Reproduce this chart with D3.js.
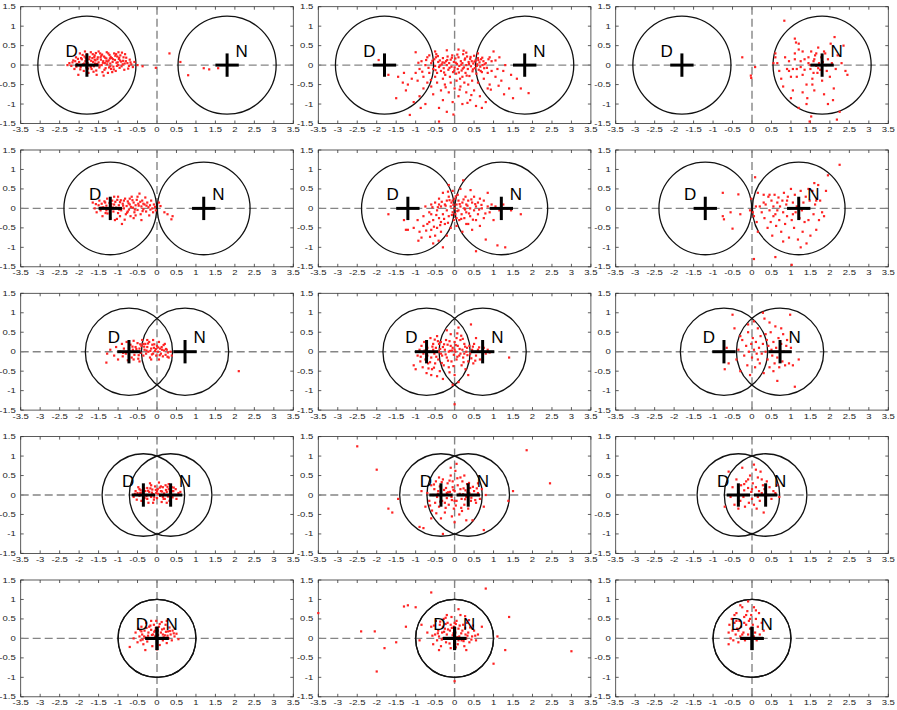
<!DOCTYPE html>
<html>
<head>
<meta charset="utf-8">
<script src="https://cdn.jsdelivr.net/npm/d3@7"></script>
<style>
body { margin: 0; background: #fff; }
svg { display: block; }
text { font-family: "Liberation Sans", Arial, Helvetica, sans-serif; }
</style>
</head>
<body>
<svg></svg>
<script>
'use strict';

// ---- data ----
const xTicks = [-3.5, -3, -2.5, -2, -1.5, -1, -0.5, 0, 0.5, 1, 1.5, 2, 2.5, 3, 3.5];
const xTickLabels = ["-3.5", "-3", "-2.5", "-2", "-1.5", "-1", "-0.5", "0", "0.5", "1", "1.5", "2", "2.5", "3", "3.5"];
const yTicks = [-1.5, -1, -0.5, 0, 0.5, 1, 1.5];
const yTickLabels = ["-1.5", "-1", "-0.5", "0", "0.5", "1", "1.5"];

// D at -offset, N at +offset, one row each
const rowOffsets = [1.8, 1.2, 0.72, 0.35, 0];
const rowRadii = [1.26, 1.19, 1.12, 1.06, 1.0];
const crossArm = 0.3;
const markerNames = ["D", "N"];

const pts11 = [[-2.3,0.0],[-2.25,0.05],[-2.2,-0.02],[-2.15,0.12],[-2.12,-0.1],[-2.08,0.2],[-2.05,0.03],[-2.02,-0.25],[-2.0,0.08],[-1.98,0.3],[-1.96,-0.05],[-1.93,0.15],[-1.9,0.02],[-1.88,-0.15],[-1.86,0.22],[-1.84,0.1],[-1.82,-0.06],[-1.8,0.28],[-1.78,0.05],[-1.76,-0.2],[-1.74,0.15],[-1.72,0.0],[-1.7,0.33],[-1.68,-0.1],[-1.66,0.18],[-1.64,0.08],[-1.62,-0.03],[-1.6,0.25],[-1.58,0.12],[-1.56,-0.14],[-1.54,0.03],[-1.52,0.2],[-1.5,0.07],[-1.48,-0.06],[-1.46,0.3],[-1.44,0.14],[-1.42,0.0],[-1.4,-0.18],[-1.38,0.1],[-1.36,0.22],[-1.34,0.05],[-1.32,-0.08],[-1.3,0.17],[-1.28,0.02],[-1.26,-0.2],[-1.24,0.12],[-1.22,0.26],[-1.2,0.04],[-1.18,-0.1],[-1.16,0.18],[-1.14,0.08],[-1.12,-0.04],[-1.1,0.3],[-1.08,0.13],[-1.06,-0.15],[-1.04,0.06],[-1.02,0.22],[-1.0,0.0],[-0.98,0.16],[-0.96,-0.07],[-0.94,0.25],[-0.92,0.09],[-0.9,0.32],[-0.88,0.02],[-0.86,0.2],[-0.84,-0.12],[-0.8,0.1],[-0.76,0.05],[-0.72,-0.02],[-0.68,0.07],[-0.62,-0.05],[-0.58,0.08],[-0.5,0.0],[-1.95,0.18],[-1.85,0.35],[-1.65,0.28],[-1.55,-0.25],[-1.45,0.2],[-1.35,-0.12],[-1.25,0.3],[-1.15,-0.18],[-1.05,0.28],[-2.1,0.1],[-1.7,-0.05],[-1.6,0.14],[-1.5,0.35],[-1.3,0.1],[-1.2,-0.03],[-0.95,0.12],[-0.82,0.28],[-0.66,0.02],[-0.37,-0.03],[-0.03,-0.07],[0.32,0.3],[0.6,0.08],[0.8,-0.26],[1.2,-0.08],[1.34,-0.11],[1.57,-0.08],
  [-2.17,0.07],[-2.03,0.16],[-1.97,-0.11],[-1.91,0.26],[-1.87,0.04],[-1.81,0.13],[-1.77,-0.09],[-1.73,0.21],[-1.69,0.11],[-1.63,-0.17],[-1.59,0.04],[-1.57,0.31],[-1.53,0.15],[-1.47,-0.01],[-1.43,0.24],[-1.39,0.06],[-1.37,-0.27],[-1.33,0.19],[-1.29,0.33],[-1.27,0.09],[-1.23,-0.06],[-1.19,0.21],[-1.13,0.15],[-1.11,-0.11],[-1.07,0.24],[-1.03,-0.02],[-0.99,0.33],[-0.97,0.19],[-0.91,-0.03],[-0.87,0.11],[-0.83,0.04],[-0.79,0.19],[-0.74,-0.09],[-0.7,0.14],[-1.61,0.21],[-1.41,0.27],[-1.21,0.17],[-1.01,0.07],[-1.83,0.18],[-2.07,-0.04]];

const pts12 = [[-0.6,0.05],[-0.55,-0.1],[-0.52,0.15],[-0.5,-0.02],[-0.48,0.2],[-0.45,-0.2],[-0.42,0.08],[-0.4,-0.05],[-0.38,0.12],[-0.35,-0.15],[-0.33,0.02],[-0.3,0.18],[-0.28,-0.08],[-0.26,0.06],[-0.24,-0.25],[-0.22,0.1],[-0.2,0.0],[-0.18,0.22],[-0.16,-0.12],[-0.14,0.05],[-0.12,-0.3],[-0.1,0.14],[-0.08,-0.04],[-0.06,0.25],[-0.04,-0.18],[-0.02,0.08],[0.0,-0.06],[0.02,0.17],[0.04,-0.22],[0.06,0.03],[0.08,-0.1],[0.1,0.2],[0.12,-0.02],[0.14,-0.35],[0.16,0.1],[0.18,-0.14],[0.2,0.05],[0.22,0.28],[0.24,-0.06],[0.26,0.14],[0.28,-0.2],[0.3,0.0],[0.32,0.22],[0.34,-0.1],[0.36,0.08],[0.38,-0.28],[0.4,0.16],[0.42,-0.03],[0.44,0.1],[0.46,-0.16],[0.48,0.04],[0.5,0.24],[0.52,-0.08],[0.54,0.12],[0.56,-0.22],[0.58,0.02],[0.6,0.18],[0.62,-0.12],[0.64,0.07],[0.66,-0.04],[0.68,0.15],[0.7,-0.18],[0.72,0.0],[0.74,0.1],[0.76,-0.08],[0.8,0.05],[-0.9,-0.1],[-0.85,0.1],[-0.8,-0.3],[-0.75,0.0],[-0.7,-0.45],[-0.65,0.25],[-0.95,-0.4],[-1.0,-0.2],[-1.1,-0.35],[-1.2,-0.5],[-1.25,-0.65],[-1.3,-0.2],[-1.45,-0.3],[-1.5,-0.85],[-1.7,-0.25],[-1.95,0.13],[-1.15,-1.28],[-1.0,0.33],[-1.05,-0.95],[-0.9,-0.8],[-0.8,-0.6],[-0.75,-1.0],[-0.6,-0.55],[-0.55,-0.75],[-0.45,-0.45],[-0.4,-1.1],[-0.35,-0.65],[-0.3,-0.9],[-0.25,-0.5],[-0.2,-1.2],[-0.4,-1.45],[-0.15,-0.7],[-0.1,-0.45],[-0.05,-0.95],[0.0,-0.6],[0.05,-0.4],[0.1,-0.8],[0.15,-0.55],[0.2,-1.0],[0.25,-0.45],[0.3,-0.7],[0.35,-0.5],[0.4,-0.9],[0.45,-0.4],[0.5,-0.65],[0.55,-1.05],[0.6,-0.45],[0.65,-0.8],[0.7,-1.1],[0.75,-0.35],[0.8,-0.95],[0.85,-0.2],[0.9,-0.5],[0.95,0.1],[1.0,0.35],[1.05,-0.3],[1.1,-0.1],[1.15,0.2],[1.2,-0.4],[1.25,-0.15],[1.3,0.0],[1.4,-0.6],[1.45,-0.25],[1.5,-0.85],[1.6,-0.35],[1.7,-0.6],[1.9,-0.72],[0.9,0.2],[0.85,-0.6],[-0.5,0.35],[-0.2,0.38],[0.1,0.4],[0.3,0.32],[0.6,0.3],[-0.7,0.2],[-0.65,-0.2],[-0.5,-0.3],[0.95,-0.15],[1.05,0.12],[-0.3,-0.35],[0.2,-0.3],
  [-0.57,0.11],[-0.49,-0.13],[-0.43,0.23],[-0.37,-0.01],[-0.31,0.07],[-0.27,-0.19],[-0.19,0.13],[-0.13,-0.07],[-0.07,0.19],[-0.01,-0.14],[0.03,0.06],[0.07,0.27],[0.11,-0.19],[0.17,0.01],[0.21,-0.09],[0.27,0.17],[0.31,-0.27],[0.37,0.03],[0.41,0.21],[0.47,-0.11],[0.51,0.09],[0.57,-0.02],[0.61,0.13],[0.67,-0.15],[0.71,0.19],[0.77,0.02],[0.83,-0.07],[0.87,0.15],[-0.67,-0.07],[-0.73,0.13],[-0.83,-0.17],[-0.93,0.06],[-0.61,-0.38],[-0.23,-0.57],[0.13,-0.63],[0.43,-0.77],[0.93,-0.63],[1.13,-0.53],[-0.87,-1.1],[-0.03,-1.27],[0.33,-0.97],[1.27,-0.75],[-1.33,-0.45],[-0.47,0.28],[0.23,0.37]];

const pts13 = [[0.83,1.14],[1.1,0.68],[1.13,0.58],[1.2,0.55],[0.6,0.3],[0.65,0.05],[0.55,0.05],[0.6,0.2],[0.7,-0.15],[0.75,-0.35],[0.8,-0.55],[0.85,0.2],[0.9,-0.1],[0.95,0.1],[1.0,-0.3],[1.05,-0.65],[1.1,0.3],[1.15,-0.1],[1.2,0.4],[1.25,-0.05],[1.3,-0.25],[1.35,0.15],[1.4,-0.5],[1.42,-0.85],[1.45,0.05],[1.5,-0.1],[1.52,0.35],[1.55,-0.35],[1.58,0.1],[1.6,-0.65],[1.62,0.25],[1.65,-0.02],[1.68,-0.2],[1.7,0.45],[1.72,0.05],[1.75,-0.12],[1.78,0.2],[1.8,-0.4],[1.82,0.08],[1.85,-0.75],[1.88,0.3],[1.9,0.0],[1.92,-0.15],[1.95,0.15],[2.0,-0.3],[2.02,0.55],[2.05,0.05],[2.1,-0.6],[2.12,0.72],[2.15,-0.1],[2.2,0.25],[2.25,-1.2],[2.3,0.05],[2.35,0.5],[2.4,-0.15],[2.45,-0.25],[1.48,-1.45],[1.52,-1.32],[1.2,-1.1],[1.4,-1.0],[1.95,-1.0],[2.08,-0.9],[1.3,-0.7],[1.55,-0.5],[1.15,-0.3],[1.1,0.15],[1.25,0.1],[1.35,-0.12],[1.45,0.2],[1.6,0.15],[1.7,-0.08],[1.85,0.35],[1.58,-0.2],[1.05,-0.1],[0.95,-0.15],[1.65,0.3],[1.3,0.35],[1.5,0.0],[-0.25,0.2],[-0.03,-0.27],[0.08,-0.05],[-0.02,-0.33],[2.18,-1.4],[1.0,-0.85]];

const pts21 = [[-1.65,0.15],[-1.6,0.0],[-1.55,-0.1],[-1.5,0.08],[-1.48,0.2],[-1.45,-0.05],[-1.42,0.12],[-1.4,-0.2],[-1.38,0.03],[-1.35,0.18],[-1.32,-0.12],[-1.3,0.07],[-1.28,0.25],[-1.25,-0.02],[-1.22,0.14],[-1.2,-0.25],[-1.18,0.05],[-1.15,0.2],[-1.12,-0.08],[-1.1,0.1],[-1.08,-0.3],[-1.05,0.02],[-1.02,0.22],[-1.0,-0.12],[-0.98,0.08],[-0.95,0.16],[-0.92,-0.05],[-0.9,-0.4],[-0.88,0.12],[-0.85,0.0],[-0.82,0.25],[-0.8,-0.15],[-0.78,0.06],[-0.75,0.18],[-0.72,-0.03],[-0.7,0.1],[-0.68,-0.2],[-0.65,0.3],[-0.62,0.02],[-0.6,0.15],[-0.58,-0.1],[-0.55,0.08],[-0.52,0.22],[-0.5,-0.04],[-0.48,0.12],[-0.45,0.38],[-0.42,-0.15],[-0.4,0.05],[-0.38,0.2],[-0.35,-0.02],[-0.32,0.1],[-0.3,0.28],[-0.28,-0.08],[-0.25,0.15],[-0.22,0.03],[-0.2,-0.18],[-0.18,0.08],[-0.15,0.2],[-0.12,0.0],[-0.1,-0.1],[-0.08,0.1],[-0.05,0.04],[-0.03,-0.05],[-1.3,-0.05],[-1.1,0.3],[-0.95,-0.2],[-0.85,0.2],[-0.75,-0.08],[-0.6,-0.25],[-0.5,0.3],[-0.4,-0.3],[-1.2,0.05],[-1.0,0.3],[-0.7,0.25],[-0.55,-0.18],[-0.35,0.12],[0.09,0.06],[0.19,-0.1],[0.27,-0.15],[0.4,-0.2],[0.37,-0.28],[0.05,0.15],
  [-1.57,0.11],[-1.43,0.02],[-1.33,0.15],[-1.27,-0.13],[-1.17,0.11],[-1.13,0.02],[-1.07,0.17],[-0.97,-0.03],[-0.93,0.21],[-0.87,0.07],[-0.77,-0.11],[-0.73,0.13],[-0.67,0.04],[-0.63,0.21],[-0.57,-0.03],[-0.47,0.07],[-0.43,0.17],[-0.37,-0.07],[-0.27,0.07],[-0.17,-0.03],[-1.03,-0.27],[-0.83,-0.29]];

const pts22 = [[-1.7,-0.15],[-1.3,-0.3],[-1.25,-0.55],[-1.2,-0.55],[-1.05,-0.5],[-0.95,-0.3],[-0.9,-0.6],[-0.85,-0.75],[-0.8,-0.2],[-0.75,0.05],[-0.7,-0.4],[-0.65,-0.1],[-0.6,0.1],[-0.6,-0.55],[-0.55,-0.3],[-0.5,0.15],[-0.5,-0.7],[-0.45,-0.05],[-0.45,-0.5],[-0.4,0.25],[-0.4,-0.25],[-0.35,0.05],[-0.35,-0.6],[-0.3,0.4],[-0.3,-0.15],[-0.3,-1.0],[-0.25,0.1],[-0.25,-0.4],[-0.2,-0.05],[-0.2,0.2],[-0.2,-0.7],[-0.15,0.3],[-0.15,-0.2],[-0.1,0.05],[-0.1,-0.5],[-0.08,0.15],[-0.05,-0.1],[-0.05,0.45],[-0.02,-0.3],[0.0,0.0],[0.0,0.25],[0.02,-0.15],[0.05,0.1],[0.05,-0.45],[0.08,0.35],[0.1,-0.05],[0.1,0.2],[0.12,-0.3],[0.15,0.05],[0.15,0.5],[0.18,-0.15],[0.2,0.15],[0.2,-0.6],[0.22,0.72],[0.25,0.0],[0.25,-0.25],[0.28,0.3],[0.3,-0.1],[0.3,0.1],[0.35,-0.4],[0.35,0.2],[0.4,0.0],[0.4,-0.2],[0.45,0.15],[0.45,-0.55],[0.5,-0.05],[0.5,0.3],[0.55,-0.3],[0.55,0.05],[0.6,0.15],[0.6,-0.15],[0.65,-0.45],[0.7,0.0],[0.75,0.2],[0.75,-0.25],[0.8,-0.8],[0.85,0.05],[0.9,-0.1],[0.95,0.1],[1.0,-0.3],[1.05,0.05],[1.1,-0.95],[1.15,-0.05],[1.25,0.1],[1.3,-1.0],[1.35,0.0],[1.45,-0.05],[1.7,-0.15],[0.85,0.4],[0.55,-1.1],[-0.55,-0.9],[-0.65,-0.35],[-0.15,0.6],[-0.05,0.2],[0.05,-0.25],[-0.4,0.1],[-0.6,-0.15],[-0.8,-0.45],[-0.35,-0.35],[0.3,-0.4],[0.65,0.25],
  [-0.47,-0.17],[-0.43,0.03],[-0.37,-0.43],[-0.33,0.17],[-0.27,-0.27],[-0.23,0.07],[-0.17,-0.37],[-0.13,0.21],[-0.07,-0.17],[-0.03,0.09],[0.03,0.31],[0.07,-0.07],[0.13,0.11],[0.17,-0.27],[0.23,0.23],[0.27,-0.03],[0.33,0.07],[0.37,-0.13],[0.43,0.23],[0.47,-0.29],[0.53,0.11],[0.63,-0.03],[0.69,0.09],[0.79,-0.13],[-0.53,-0.47],[-0.63,-0.73],[-0.73,-0.57],[-0.93,-0.83],[-0.57,0.03],[-0.17,0.43],[0.41,0.47],[-0.41,-0.83]];

const pts23 = [[-0.75,-0.2],[-0.72,-0.28],[-0.75,0.4],[-0.55,-0.1],[-0.5,-0.52],[-0.35,0.36],[-0.3,-0.15],[-0.05,-0.05],[0.05,-0.2],[0.08,0.8],[0.1,0.05],[0.12,-0.35],[0.15,-0.6],[0.2,0.05],[0.25,-0.1],[0.3,0.35],[0.32,-0.25],[0.35,0.1],[0.4,-0.5],[0.42,0.3],[0.45,-0.05],[0.48,-0.35],[0.5,0.2],[0.52,-0.7],[0.55,0.05],[0.58,0.35],[0.6,-0.15],[0.62,-0.45],[0.65,0.15],[0.68,0.28],[0.7,-0.3],[0.72,0.05],[0.75,-0.6],[0.78,0.2],[0.8,-0.1],[0.82,0.4],[0.85,-0.4],[0.88,0.1],[0.9,-0.2],[0.92,0.3],[0.95,-0.75],[0.98,0.0],[1.0,0.5],[1.02,-0.3],[1.05,0.15],[1.08,-0.5],[1.1,0.35],[1.12,-0.1],[1.15,0.05],[1.18,-0.8],[1.2,0.25],[1.22,-0.25],[1.25,0.45],[1.28,-0.05],[1.3,-0.6],[1.32,0.15],[1.35,-0.35],[1.38,0.3],[1.4,-0.9],[1.42,0.0],[1.45,-0.3],[1.48,0.2],[1.5,-0.7],[1.55,0.45],[1.58,-0.15],[1.6,0.65],[1.62,0.1],[1.65,-0.55],[1.7,0.6],[1.72,-0.3],[1.75,0.2],[1.8,-0.1],[1.85,-0.2],[1.9,0.45],[1.95,0.85],[2.25,1.12],[0.05,-1.3],[0.6,-1.25],[1.02,-1.45],[0.8,-0.85],[1.25,-1.0],[0.45,0.35],[0.15,0.4],[0.3,0.15],[0.55,-0.2],[0.65,-0.05],[0.9,0.2],[1.05,-0.15],[1.45,0.5],[1.65,0.2],[-0.02,0.25],[0.02,-0.1]];

const pts31 = [[-1.3,-0.28],[-1.28,-0.05],[-1.2,0.05],[-1.1,-0.1],[-1.05,0.12],[-1.0,-0.2],[-0.95,0.0],[-0.9,0.2],[-0.88,-0.12],[-0.85,0.08],[-0.8,-0.05],[-0.78,0.25],[-0.75,-0.22],[-0.72,0.1],[-0.7,0.0],[-0.68,0.18],[-0.65,-0.15],[-0.62,0.05],[-0.6,0.28],[-0.58,-0.08],[-0.55,0.12],[-0.52,0.0],[-0.5,0.22],[-0.48,-0.18],[-0.45,0.08],[-0.42,-0.03],[-0.4,0.15],[-0.38,0.3],[-0.35,-0.1],[-0.32,0.05],[-0.3,0.2],[-0.28,-0.05],[-0.25,0.12],[-0.22,0.0],[-0.2,0.25],[-0.18,-0.15],[-0.15,0.08],[-0.12,0.18],[-0.1,-0.05],[-0.08,0.1],[-0.05,0.02],[-0.02,-0.1],[0.0,0.15],[0.02,0.0],[0.05,-0.2],[0.08,0.08],[0.1,-0.05],[0.12,0.12],[0.15,-0.12],[0.18,0.03],[0.2,0.2],[0.22,-0.08],[0.25,0.05],[0.28,-0.02],[0.3,-0.15],[0.35,0.0],[0.38,-0.1],[-0.25,0.3],[-0.45,-0.25],[-0.15,-0.2],[0.05,0.25],[-0.6,-0.2],[-0.35,0.2],[-0.1,0.3],[2.1,-0.5],
  [-0.33,0.13],[-0.27,0.03],[-0.23,0.21],[-0.17,0.02],[-0.13,-0.07],[-0.07,0.19],[-0.03,0.07],[0.03,0.11],[0.07,-0.09],[0.13,0.05],[0.17,0.17],[0.23,0.07],[-0.43,0.19],[-0.53,0.07],[-0.63,0.13],[-0.87,-0.03],[0.27,-0.13],[-0.47,-0.09]];

const pts32 = [[-1.05,-0.35],[-1.0,-0.45],[-0.95,-0.1],[-0.9,0.05],[-0.88,-0.25],[-0.85,0.15],[-0.82,-0.4],[-0.8,-0.05],[-0.78,0.25],[-0.75,-0.2],[-0.72,-0.55],[-0.7,0.1],[-0.68,-0.3],[-0.65,0.0],[-0.62,0.35],[-0.6,-0.15],[-0.58,-0.45],[-0.55,0.2],[-0.52,-0.05],[-0.5,-0.3],[-0.48,0.1],[-0.45,0.4],[-0.42,-0.2],[-0.4,0.0],[-0.38,-0.5],[-0.35,0.25],[-0.32,-0.1],[-0.3,0.12],[-0.28,-0.35],[-0.25,0.05],[-0.22,0.3],[-0.2,-0.15],[-0.18,0.18],[-0.15,-0.4],[-0.12,0.02],[-0.1,0.45],[-0.08,-0.25],[-0.05,0.1],[-0.02,-0.08],[0.0,0.25],[0.0,-0.6],[0.02,0.0],[0.05,-0.2],[0.08,0.15],[0.1,0.62],[0.12,-0.1],[0.15,0.3],[0.18,-0.35],[0.2,0.05],[0.22,-0.15],[0.25,0.2],[0.28,-0.45],[0.3,0.0],[0.32,0.1],[0.35,-0.25],[0.38,0.15],[0.4,-0.05],[0.42,0.7],[0.45,0.05],[0.48,-0.3],[0.5,0.2],[0.55,-0.1],[0.6,0.05],[0.65,-0.2],[0.7,0.0],[0.75,0.1],[0.8,-0.05],[0.85,0.05],[0.9,-0.02],[1.4,-0.15],[0.0,-1.35],[-0.05,-0.85],[0.1,-0.78],[-0.3,-0.7],[-0.6,-0.6],[0.35,-0.6],[0.55,0.35],[-0.2,0.55],[-0.4,0.2],[-0.15,0.0],[0.05,0.35],[0.25,-0.05],[-0.55,0.05],[-0.7,-0.1],[-0.35,-0.05],[0.15,-0.05],[-0.1,0.15],[0.0,0.05],
  [-0.63,-0.27],[-0.57,0.13],[-0.53,-0.41],[-0.47,-0.13],[-0.43,0.27],[-0.37,0.07],[-0.33,-0.29],[-0.27,0.19],[-0.23,-0.07],[-0.17,-0.23],[-0.13,0.27],[-0.07,0.03],[-0.03,-0.37],[0.03,0.17],[0.07,-0.13],[0.13,0.07],[0.17,0.41],[0.23,-0.27],[0.27,0.13],[0.33,-0.09],[0.43,-0.17],[0.47,0.13],[0.53,-0.23],[0.63,0.11],[-0.77,0.03],[-0.87,-0.13],[-0.67,-0.43],[-0.45,-0.63],[-0.13,-0.53],[0.21,0.33],[-0.51,0.31],[0.07,0.47]];

const pts33 = [[-0.7,-0.45],[-0.65,0.1],[-0.6,-0.3],[-0.5,0.95],[-0.45,0.6],[-0.4,-0.2],[-0.35,0.05],[-0.3,-0.5],[-0.25,0.3],[-0.2,-0.1],[-0.15,0.15],[-0.12,-0.35],[-0.1,0.5],[-0.08,0.0],[-0.05,-0.6],[-0.02,0.2],[0.0,-0.15],[0.02,0.35],[0.05,0.05],[0.08,-0.4],[0.1,0.25],[0.12,-0.05],[0.15,0.6],[0.18,0.1],[0.2,-0.3],[0.22,0.4],[0.25,-0.05],[0.28,0.2],[0.3,-0.55],[0.32,0.85],[0.35,0.0],[0.38,0.3],[0.4,-0.2],[0.42,0.15],[0.45,-0.4],[0.48,0.5],[0.5,0.05],[0.52,-0.1],[0.55,0.25],[0.58,-0.3],[0.6,0.65],[0.62,0.1],[0.65,-0.15],[0.68,0.35],[0.7,-0.4],[0.72,0.05],[0.75,0.2],[0.78,-0.25],[0.8,0.45],[0.82,0.0],[0.85,-0.35],[0.88,0.15],[0.9,0.3],[0.95,-0.3],[1.0,0.1],[1.05,-0.35],[1.1,-0.9],[1.2,-0.2],[0.65,-0.75],[0.98,0.95],[0.28,1.0],[-0.1,0.7],[0.05,0.78],[0.45,0.75],[0.15,-0.2],[0.35,0.45],[0.55,-0.5],[0.75,0.6],[-0.3,0.4]];

const pts41 = [[-0.6,-0.05],[-0.55,0.1],[-0.52,-0.12],[-0.5,0.05],[-0.48,0.2],[-0.45,-0.02],[-0.42,0.12],[-0.4,-0.15],[-0.38,0.06],[-0.35,0.25],[-0.32,-0.08],[-0.3,0.1],[-0.28,0.0],[-0.25,0.18],[-0.22,-0.2],[-0.2,0.08],[-0.18,0.3],[-0.15,-0.05],[-0.12,0.14],[-0.1,0.02],[-0.08,-0.12],[-0.05,0.22],[-0.02,0.05],[0.0,-0.08],[0.02,0.15],[0.05,0.32],[0.08,-0.02],[0.1,0.1],[0.12,-0.18],[0.15,0.2],[0.18,0.04],[0.2,-0.1],[0.22,0.25],[0.25,0.08],[0.28,-0.04],[0.3,0.15],[0.32,-0.15],[0.35,0.03],[0.38,0.2],[0.4,-0.06],[0.42,0.1],[0.45,0.0],[0.48,0.15],[0.5,-0.1],[0.55,0.05],[0.6,0.08],[-0.35,0.1],[-0.25,-0.1],[-0.15,0.25],[0.0,0.1],[0.15,-0.05],[0.3,0.28],[0.4,0.1],[-0.45,0.15],[0.1,0.22],[-0.1,-0.2],[0.25,-0.2],
  [-0.43,0.05],[-0.33,0.17],[-0.27,-0.03],[-0.23,0.11],[-0.17,0.17],[-0.13,0.06],[-0.07,-0.06],[-0.03,0.13],[0.03,0.03],[0.07,0.19],[0.13,0.09],[0.17,-0.1],[0.23,0.13],[0.27,0.21],[0.33,0.09],[0.37,-0.03],[0.43,0.19],[-0.57,0.03]];

const pts42 = [[-2.5,1.25],[-2.0,0.65],[-1.7,-0.35],[-1.6,-0.45],[-1.45,-0.1],[-0.9,-0.82],[-0.8,-0.85],[-0.85,0.1],[1.5,0.1],[1.38,-0.15],[1.85,1.15],[2.45,0.3],[0.75,-0.9],[0.46,-0.65],[-0.3,-1.0],[0.0,-0.7],[-0.75,-0.3],[-0.7,0.05],[-0.65,-0.15],[-0.6,0.25],[-0.58,-0.4],[-0.55,0.0],[-0.52,0.15],[-0.5,-0.2],[-0.48,0.35],[-0.45,-0.05],[-0.42,0.1],[-0.4,-0.3],[-0.38,0.22],[-0.35,0.05],[-0.32,-0.15],[-0.3,0.4],[-0.28,0.0],[-0.25,-0.45],[-0.22,0.18],[-0.2,-0.08],[-0.18,0.3],[-0.15,-0.25],[-0.12,0.08],[-0.1,0.5],[-0.08,-0.05],[-0.05,0.2],[-0.02,-0.35],[0.0,0.1],[0.02,0.62],[0.05,-0.15],[0.08,0.25],[0.1,0.0],[0.12,-0.5],[0.15,0.15],[0.18,-0.1],[0.2,0.35],[0.22,0.02],[0.25,-0.25],[0.28,0.12],[0.3,-0.05],[0.32,0.28],[0.35,-0.35],[0.38,0.05],[0.4,0.18],[0.42,-0.15],[0.45,0.0],[0.5,0.1],[0.55,-0.2],[0.6,0.05],[0.65,-0.1],[0.7,0.15],[0.75,-0.3],[0.8,0.0],[-0.35,-0.6],[0.3,-0.65],[-0.1,0.7],[0.05,0.8],[-0.6,-0.6],[-0.2,0.05],[0.0,-0.15],[0.15,0.45],[-0.4,0.45],[0.25,0.5],[-0.05,0.35],[-0.25,-0.2],[0.6,0.3],
  [-0.43,0.03],[-0.37,-0.17],[-0.33,0.33],[-0.27,0.13],[-0.23,-0.33],[-0.17,0.07],[-0.13,0.37],[-0.07,-0.13],[-0.03,0.13],[0.03,-0.27],[0.07,0.43],[0.13,0.03],[0.17,-0.33],[0.23,0.17],[0.27,-0.11],[0.33,0.07],[0.37,0.31],[0.43,-0.07],[0.47,0.21],[0.53,-0.13],[-0.53,0.27],[-0.63,-0.27],[-0.47,-0.47],[0.57,0.17],[-0.07,-0.55],[0.19,-0.41]];

const pts43 = [[-0.7,-0.3],[-0.6,0.6],[-0.55,-0.05],[-0.5,0.2],[-0.45,-0.25],[-0.4,0.4],[-0.35,0.05],[-0.3,-0.15],[-0.28,0.25],[-0.25,0.7],[-0.22,-0.05],[-0.2,0.12],[-0.18,-0.3],[-0.15,0.35],[-0.12,0.0],[-0.1,0.18],[-0.08,-0.2],[-0.05,0.5],[-0.02,0.08],[0.0,-0.1],[0.02,0.3],[0.05,0.78],[0.08,0.0],[0.1,0.2],[0.12,-0.35],[0.15,0.45],[0.18,0.1],[0.2,-0.15],[0.22,0.6],[0.25,0.05],[0.28,0.25],[0.3,-0.45],[0.32,0.15],[0.35,-0.05],[0.38,0.35],[0.4,0.0],[0.45,0.2],[0.5,-0.1],[0.55,0.1],[0.6,0.05],[0.65,0.25],[0.7,-0.05],[-0.35,-0.35],[0.1,0.65],[-0.1,0.4],[0.05,-0.25],[0.25,0.4],[-0.2,0.28],[0.0,0.15],[0.15,-0.05]];

const pts51 = [[-0.6,0.0],[-0.55,0.15],[-0.5,-0.1],[-0.48,0.25],[-0.45,0.05],[-0.42,-0.05],[-0.4,0.3],[-0.38,0.1],[-0.35,-0.15],[-0.32,0.2],[-0.3,0.02],[-0.28,0.4],[-0.25,-0.08],[-0.22,0.15],[-0.2,0.3],[-0.18,0.0],[-0.15,0.22],[-0.12,-0.2],[-0.1,0.1],[-0.08,0.35],[-0.05,0.05],[-0.02,0.45],[0.0,-0.1],[0.02,0.2],[0.05,0.3],[0.08,0.0],[0.1,0.15],[0.12,0.42],[0.15,-0.05],[0.18,0.25],[0.2,0.08],[0.22,0.35],[0.25,-0.12],[0.28,0.18],[0.3,0.0],[0.32,0.28],[0.35,0.1],[0.38,-0.05],[0.4,0.2],[0.45,0.05],[0.5,0.12],[0.55,-0.02],[-0.3,-0.3],[0.0,-0.28],[-0.7,-0.22],[-0.15,0.45],[0.15,0.1],[-0.05,0.2],[0.25,0.45],[-0.4,0.18],
  [-0.43,0.21],[-0.33,0.05],[-0.27,0.27],[-0.23,0.07],[-0.17,0.33],[-0.13,0.09],[-0.07,0.17],[-0.03,0.27],[0.03,0.09],[0.07,0.37],[0.13,0.23],[0.17,0.03],[0.23,0.17],[0.27,0.07],[0.33,0.19],[0.43,0.13],[-0.37,-0.03],[0.07,-0.17]];

const pts52 = [[-3.5,0.65],[-2.4,0.18],[-2.05,0.18],[-2.0,-0.85],[-1.8,-0.25],[-1.5,-0.1],[-1.3,0.82],[-1.2,0.85],[-1.25,0.3],[-1.0,0.8],[-0.6,1.18],[0.8,1.28],[1.4,0.55],[1.3,-0.3],[1.0,-0.65],[3.0,-0.33],[0.0,-1.1],[-0.85,0.35],[1.1,0.05],[-0.9,-0.05],[-0.6,0.3],[-0.55,-0.15],[-0.5,0.1],[-0.48,0.45],[-0.45,-0.05],[-0.42,0.2],[-0.4,0.05],[-0.38,0.35],[-0.35,-0.2],[-0.32,0.15],[-0.3,0.0],[-0.28,0.5],[-0.25,0.25],[-0.22,-0.1],[-0.2,0.1],[-0.18,0.4],[-0.15,0.0],[-0.12,0.2],[-0.1,-0.25],[-0.08,0.55],[-0.05,0.08],[-0.02,0.3],[0.0,-0.05],[0.02,0.15],[0.05,0.45],[0.08,-0.15],[0.1,0.25],[0.12,0.05],[0.15,0.6],[0.18,-0.05],[0.2,0.2],[0.22,0.35],[0.25,-0.2],[0.28,0.1],[0.3,0.0],[0.32,0.4],[0.35,0.15],[0.38,-0.1],[0.4,0.28],[0.45,0.05],[0.5,0.2],[0.55,-0.05],[0.6,0.1],[0.7,0.3],[-0.7,0.15],[-0.2,0.6],[0.1,0.75],[-0.4,-0.3],[0.3,-0.3],[0.0,0.4],[-0.3,0.3],[0.2,0.0],[-0.1,0.35],[0.1,-0.05],
  [-0.43,0.13],[-0.37,0.43],[-0.33,-0.03],[-0.27,0.17],[-0.23,0.37],[-0.17,0.23],[-0.13,-0.13],[-0.07,0.27],[-0.03,0.13],[0.03,0.37],[0.07,0.03],[0.13,0.33],[0.17,0.13],[0.23,-0.07],[0.27,0.27],[0.33,0.07],[0.37,0.47],[0.43,-0.03],[0.47,0.33],[-0.53,0.33],[-0.57,0.07],[0.53,0.07],[-0.23,0.53],[0.27,0.57],[0.03,-0.23]];

const pts53 = [[-0.6,0.15],[-0.58,0.35],[-0.55,0.0],[-0.52,0.5],[-0.5,0.2],[-0.48,-0.05],[-0.45,0.4],[-0.42,0.1],[-0.4,0.65],[-0.38,0.25],[-0.35,-0.1],[-0.32,0.45],[-0.3,0.05],[-0.28,0.3],[-0.25,0.8],[-0.22,0.15],[-0.2,0.55],[-0.18,-0.05],[-0.15,0.35],[-0.12,0.7],[-0.1,0.1],[-0.08,0.45],[-0.05,0.25],[-0.02,0.6],[0.0,0.0],[0.02,0.35],[0.05,0.8],[0.08,0.15],[0.1,0.5],[0.12,-0.05],[0.15,0.3],[0.18,0.65],[0.2,0.1],[0.25,0.4],[0.3,0.2],[-0.3,0.85],[-0.1,0.95],[0.1,0.72],[-0.45,0.6],[-0.35,0.2],[-0.2,0.4],[-0.05,0.5],[0.0,0.22],[-0.25,0.1],[-0.15,0.6],[0.05,0.05],[-0.4,0.45],[-0.6,-0.15]];

const scatter = [
  [pts11, pts12, pts13],
  [pts21, pts22, pts23],
  [pts31, pts32, pts33],
  [pts41, pts42, pts43],
  [pts51, pts52, pts53]
];

// ---- layout ----
const width = 897, height = 710;
const colLeft = [20.7, 318.3, 615.7];
const rowTop = [6.7, 150, 293.3, 436.6, 580];
const plotW = 272.6, plotH = 116.8;
const tickLen = 3;

let svg = d3.select("svg")
  .attr("width", width)
  .attr("height", height)
  .attr("viewBox", [0, 0, width, height]);

scatter.forEach((row, r) => row.forEach((pts, c) => {
  let x = d3.scaleLinear().domain([-3.5, 3.5]).range([0, plotW]);
  let y = d3.scaleLinear().domain([-1.5, 1.5]).range([plotH, 0]);

  let g = svg.append("g")
    .attr("transform", `translate(${colLeft[c]},${rowTop[r]})`);

  // box
  g.append("rect")
    .attr("width", plotW)
    .attr("height", plotH)
    .attr("fill", "none")
    .attr("stroke", "#333")
    .attr("stroke-width", 0.8);

  // inward ticks on all four sides
  let ticks = g.append("g")
    .attr("stroke", "#333")
    .attr("stroke-width", 0.8);
  ticks.selectAll(".xb").data(xTicks).join("line")
    .attr("x1", d => x(d)).attr("x2", d => x(d))
    .attr("y1", plotH).attr("y2", plotH - tickLen);
  ticks.selectAll(".xt").data(xTicks).join("line")
    .attr("x1", d => x(d)).attr("x2", d => x(d))
    .attr("y1", 0).attr("y2", tickLen);
  ticks.selectAll(".yl").data(yTicks).join("line")
    .attr("x1", 0).attr("x2", tickLen)
    .attr("y1", d => y(d)).attr("y2", d => y(d));
  ticks.selectAll(".yr").data(yTicks).join("line")
    .attr("x1", plotW).attr("x2", plotW - tickLen)
    .attr("y1", d => y(d)).attr("y2", d => y(d));

  // tick labels
  let labels = g.append("g")
    .attr("font-size", 9.5)
    .attr("fill", "#222");
  labels.selectAll(".xl").data(xTicks).join("text")
    .attr("text-anchor", "middle")
    .attr("transform", d => `translate(${x(d)},${plotH + 8.6}) scale(1,0.74)`)
    .text((d, i) => xTickLabels[i]);
  labels.selectAll(".yl").data(yTicks).join("text")
    .attr("text-anchor", "end")
    .attr("dy", "0.36em")
    .attr("transform", d => `translate(-5,${y(d)}) scale(1,0.74)`)
    .text((d, i) => yTickLabels[i]);

  // dashed zero lines
  let dash = g.append("g")
    .attr("stroke", "#858585")
    .attr("stroke-width", 1.4)
    .attr("stroke-dasharray", "8,4");
  dash.append("line")
    .attr("x1", x(-3.5)).attr("x2", x(3.5))
    .attr("y1", y(0)).attr("y2", y(0));
  dash.append("line")
    .attr("x1", x(0)).attr("x2", x(0))
    .attr("y1", y(1.5)).attr("y2", y(-1.5));

  let off = rowOffsets[r], rad = rowRadii[r];
  let centers = [-off, off];

  // circles
  g.append("g").selectAll("ellipse").data(centers).join("ellipse")
    .attr("cx", d => x(d))
    .attr("cy", y(0))
    .attr("rx", x(rad) - x(0))
    .attr("ry", y(0) - y(rad))
    .attr("fill", "none")
    .attr("stroke", "#111")
    .attr("stroke-width", 1.3);

  // points
  g.append("g").attr("fill", "#ff2222")
    .selectAll("rect").data(pts).join("rect")
    .attr("x", d => x(d[0]) - 1.1)
    .attr("y", d => y(d[1]) - 1.1)
    .attr("width", 2.2)
    .attr("height", 2.2);

  // crosses
  let cross = g.append("g")
    .attr("stroke", "#000")
    .attr("stroke-width", 3);
  cross.selectAll(".h").data(centers).join("line")
    .attr("x1", d => x(d - crossArm)).attr("x2", d => x(d + crossArm))
    .attr("y1", y(0)).attr("y2", y(0));
  cross.selectAll(".v").data(centers).join("line")
    .attr("x1", d => x(d)).attr("x2", d => x(d))
    .attr("y1", y(crossArm)).attr("y2", y(-crossArm));

  // D / N markers
  g.append("g").attr("font-size", 17).attr("fill", "#000")
    .selectAll("text").data(centers).join("text")
    .attr("x", (d, i) => i === 0 ? x(d) - 9 : x(d) + 8.5)
    .attr("y", y(0) - 8.4)
    .attr("text-anchor", (d, i) => i === 0 ? "end" : "start")
    .text((d, i) => markerNames[i]);
}));
</script>
</body>
</html>
